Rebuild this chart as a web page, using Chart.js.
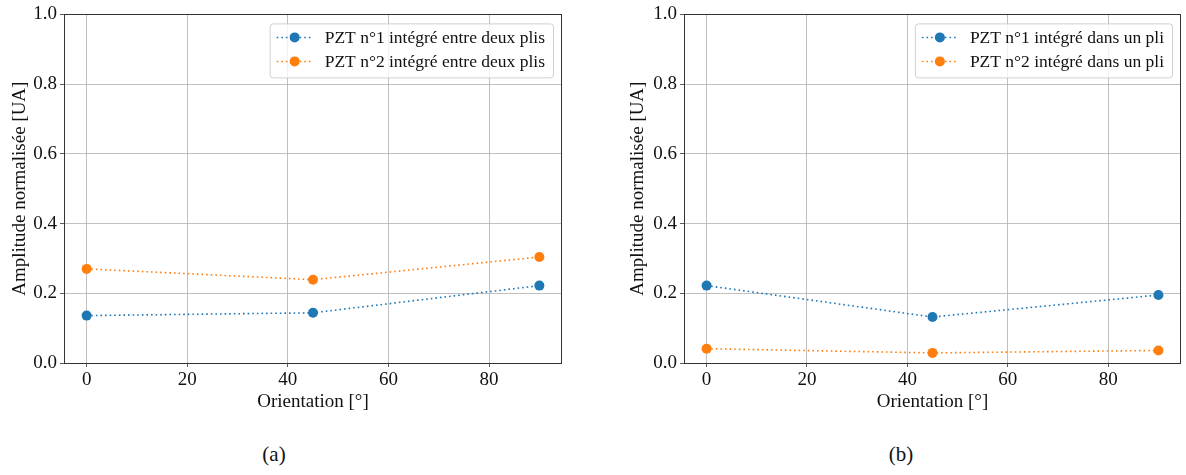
<!DOCTYPE html>
<html>
<head>
<meta charset="utf-8">
<script src="https://cdn.jsdelivr.net/npm/chart.js@4.4.0/dist/chart.umd.min.js"></script>
<style>
    body { margin: 0; background: #fff; width: 1186px; height: 475px; position: relative; overflow: hidden; font-family: "Liberation Serif", "Times New Roman", serif; }
    .panel { position: absolute; top: 0; height: 420px; }
    .caption { position: absolute; top: 442px; font-size: 21px; color: #111; transform: translateX(-50%); }
</style>
</head>
<body>
<div class="panel" style="left:0; width:593px;"><canvas id="chartA"></canvas></div>
<div class="panel" style="left:600px; width:586px;"><canvas id="chartB"></canvas></div>
<div class="caption" style="left:274px;">(a)</div>
<div class="caption" style="left:901px;">(b)</div>
<script>
// Données
const orientations = [0, 45, 90];
const xTicks = [0, 20, 40, 60, 80];
const yTicks = [0, 0.2, 0.4, 0.6, 0.8, 1.0];

const labelsA = ["PZT n°1 intégré entre deux plis", "PZT n°2 intégré entre deux plis"];
const pzt1EntrePlis = [0.136, 0.144, 0.222];
const pzt2EntrePlis = [0.270, 0.239, 0.304];

const labelsB = ["PZT n°1 intégré dans un pli", "PZT n°2 intégré dans un pli"];
const pzt1DansPli = [0.222, 0.132, 0.195];
const pzt2DansPli = [0.041, 0.029, 0.036];

const blue = "#1f77b4";
const orange = "#ff7f0e";
const font = "'Liberation Serif', 'Times New Roman', serif";
const fontSize = 19;
const legendSize = 17.5;

Chart.defaults.font.family = font;
Chart.defaults.font.size = fontSize;
Chart.defaults.color = "#111";

// Cadre autour de la zone de tracé (comme matplotlib)
const framePlugin = {
    id: "frame",
    afterDatasetsDraw(chart) {
        const a = chart.chartArea, ctx = chart.ctx;
        ctx.save();
        ctx.strokeStyle = "#333";
        ctx.lineWidth = 1;
        ctx.strokeRect(Math.round(a.left) + 0.5, Math.round(a.top) + 0.5, Math.round(a.right - a.left) - 1, Math.round(a.bottom - a.top));
        ctx.restore();
    }
};

// Légende dessinée dans la zone de tracé, en haut à droite
const legendPlugin = {
    id: "boxLegend",
    afterDraw(chart) {
        const a = chart.chartArea, ctx = chart.ctx;
        const sets = chart.data.datasets;
        ctx.save();
        ctx.font = legendSize + "px " + font;
        const textW = Math.max(...sets.map(d => ctx.measureText(d.label).width));
        const w = 55 + textW + 8, h = 54;
        const x = a.right - 9 - w, y = a.top + 9;
        ctx.beginPath();
        ctx.roundRect(x + 0.5, y + 0.5, w, h, 3);
        ctx.fillStyle = "rgba(255,255,255,0.8)";
        ctx.fill();
        ctx.strokeStyle = "#d0d0d0";
        ctx.lineWidth = 1;
        ctx.stroke();
        sets.forEach((d, i) => {
            const ry = y + 14 + i * 24;
            ctx.strokeStyle = d.borderColor;
            ctx.lineWidth = 1.5;
            ctx.setLineDash([1.6, 3]);
            ctx.beginPath();
            ctx.moveTo(x + 7, ry);
            ctx.lineTo(x + 42, ry);
            ctx.stroke();
            ctx.setLineDash([]);
            ctx.fillStyle = d.borderColor;
            ctx.beginPath();
            ctx.arc(x + 25, ry, 5, 0, Math.PI * 2);
            ctx.fill();
            ctx.fillStyle = "#111";
            ctx.textBaseline = "middle";
            ctx.fillText(d.label, x + 55, ry + 1);
        });
        ctx.restore();
    }
};

function makeDataset(label, values, color) {
    return {
        label: label,
        data: orientations.map((o, i) => ({ x: o, y: values[i] })),
        borderColor: color,
        backgroundColor: color,
        borderWidth: 1.6,
        borderDash: [1.6, 3],
        pointRadius: 5,
        pointBorderWidth: 0,
        pointBackgroundColor: color,
        tension: 0
    };
}

function makeChart(id, datasets, yAxisWidth, titlePad, rightPad) {
    const ctx = document.getElementById(id).getContext("2d");
    return new Chart(ctx, {
        type: "line",
        data: { datasets: datasets },
        options: {
            responsive: true,
            maintainAspectRatio: false,
            animation: false,
            layout: { padding: { top: 11, right: rightPad, left: 0, bottom: 0 } },
            plugins: { legend: { display: false }, tooltip: { enabled: false } },
            scales: {
                x: {
                    type: "linear",
                    min: -4.5,
                    max: 94.5,
                    afterBuildTicks: s => { s.ticks = xTicks.map(v => ({ value: v })); },
                    afterFit: s => { s.height = 57; },
                    ticks: { padding: 2, maxRotation: 0 },
                    grid: { color: "#b0b0b0", lineWidth: 0.8, tickLength: 4, tickColor: "#333" },
                    border: { display: false },
                    title: { display: true, text: "Orientation [°]", padding: { top: 0, bottom: 7 } }
                },
                y: {
                    min: 0,
                    max: 1,
                    afterBuildTicks: s => { s.ticks = yTicks.map(v => ({ value: v })); },
                    afterFit: s => { s.width = yAxisWidth; },
                    ticks: { padding: 3, callback: v => v.toFixed(1) },
                    grid: { color: "#b0b0b0", lineWidth: 0.8, tickLength: 4, tickColor: "#333" },
                    border: { display: false },
                    title: { display: true, text: "Amplitude normalisée [UA]", padding: { top: titlePad, bottom: 0 } }
                }
            }
        },
        plugins: [framePlugin, legendPlugin]
    });
}

function drawAll() {
    makeChart("chartA", [
        makeDataset(labelsA[0], pzt1EntrePlis, blue),
        makeDataset(labelsA[1], pzt2EntrePlis, orange)
    ], 64, 9, 31);

    makeChart("chartB", [
        makeDataset(labelsB[0], pzt1DansPli, blue),
        makeDataset(labelsB[1], pzt2DansPli, orange)
    ], 84, 27, 4);
}

// attendre la police avant de dessiner sur le canvas
document.fonts.load(fontSize + "px 'Liberation Serif'").then(drawAll, drawAll);
</script>
</body>
</html>
